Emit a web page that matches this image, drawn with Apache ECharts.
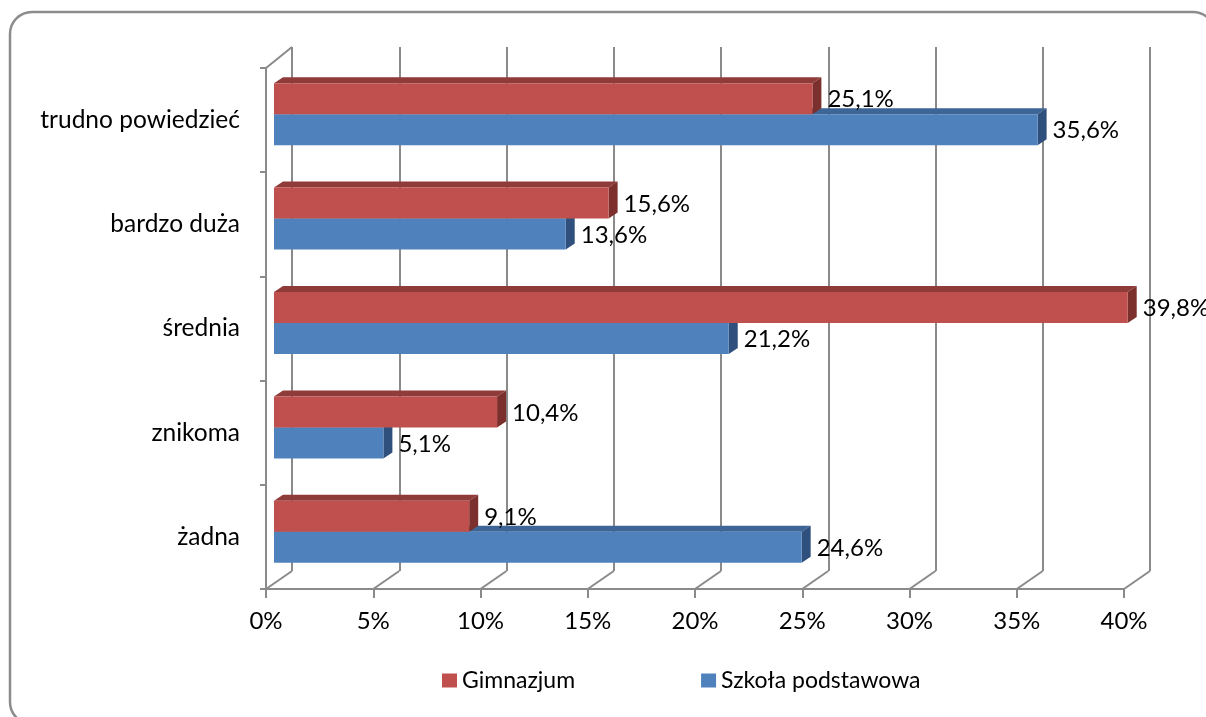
<!DOCTYPE html>
<html>
<head>
<meta charset="utf-8">
<script src="https://cdn.jsdelivr.net/npm/echarts@6/dist/echarts.min.js"></script>
<style>
html,body{margin:0;padding:0;background:#fff;}
#c{width:1206px;height:717px;}
</style>
</head>
<body>
<div id="c"></div>
<script>
const categories = ['żadna', 'znikoma', 'średnia', 'bardzo duża', 'trudno powiedzieć'];
const gimnazjum = [9.1, 10.4, 39.8, 15.6, 25.1];
const podstawowa = [24.6, 5.1, 21.2, 13.6, 35.6];
const xTicks = [0, 5, 10, 15, 20, 25, 30, 35, 40];
const seriesNames = ['Gimnazjum', 'Szkoła podstawowa'];

const FONT = 'Lato, "Open Sans", sans-serif';
const FS = 24;
const GRID_COLOR = '#8a8a8a';

function fmt(v) { return v.toFixed(1).replace('.', ',') + '%'; }

function barSeries(name, values, colors, upper) {
  return {
    type: 'custom', name: name, xAxisIndex: 2, yAxisIndex: 2, z: upper ? 4 : 3,
    itemStyle: { color: colors.front },
    data: values.map((v, i) => [v, i]),
    renderItem: function (params, api) {
      const v = api.value(0), c = api.value(1);
      const p0 = api.coord([0, c]);
      const p1 = api.coord([v, c]);
      const h = 31, dx = 9, dy = -6;
      const yTop = upper ? p1[1] - h : p1[1];
      const yBot = yTop + h;
      const x0 = p0[0], x1 = p1[0];
      return {
        type: 'group',
        children: [
          { type: 'polygon', shape: { points: [[x0, yTop], [x0 + dx, yTop + dy], [x1 + dx, yTop + dy], [x1, yTop]] }, style: { fill: colors.top } },
          { type: 'polygon', shape: { points: [[x1, yTop], [x1 + dx, yTop + dy], [x1 + dx, yBot + dy], [x1, yBot]] }, style: { fill: colors.side } },
          { type: 'rect', shape: { x: x0, y: yTop, width: x1 - x0, height: h }, style: { fill: colors.front } },
          { type: 'text', x: x1 + 15, y: yTop + h / 2 + 1, style: { text: fmt(v), fill: '#000', fontSize: FS, fontFamily: FONT, align: 'left', verticalAlign: 'middle' } }
        ]
      };
    }
  };
}

const chart = echarts.init(document.getElementById('c'), null, { renderer: 'canvas' });
chart.setOption({
  animation: false,
  backgroundColor: '#fff',
  graphic: [{
    type: 'rect', shape: { x: 10, y: 12, width: 1205, height: 712, r: 22 },
    style: { fill: 'none', stroke: '#8c8c8c', lineWidth: 2.5 }, silent: true, z: -10
  }],
  grid: [
    { left: 292, top: 47, width: 858, height: 524 },
    { left: 266, top: 68, width: 858, height: 521 },
    { left: 274, top: 62, width: 858, height: 522 }
  ],
  xAxis: [
    { gridIndex: 0, type: 'value', min: xTicks[0], max: xTicks[xTicks.length - 1], interval: 5,
      axisLine: { show: false }, axisTick: { show: false }, axisLabel: { show: false },
      splitLine: { show: true, lineStyle: { color: GRID_COLOR, width: 2 } } },
    { gridIndex: 1, type: 'value', min: xTicks[0], max: xTicks[xTicks.length - 1], interval: 5,
      axisLine: { show: true, lineStyle: { color: GRID_COLOR, width: 2 } },
      axisTick: { show: true, length: 9, lineStyle: { color: GRID_COLOR, width: 2 } },
      axisLabel: { show: true, formatter: '{value}%', color: '#000', fontSize: FS, fontFamily: FONT, margin: 20 },
      splitLine: { show: false } },
    { gridIndex: 2, type: 'value', min: xTicks[0], max: xTicks[xTicks.length - 1], interval: 5, show: false }
  ],
  yAxis: [
    { gridIndex: 0, type: 'category', data: categories, show: false },
    { gridIndex: 1, type: 'category', data: categories,
      axisLine: { show: true, lineStyle: { color: GRID_COLOR, width: 2 } },
      axisTick: { show: true, length: 6, interval: 0, lineStyle: { color: GRID_COLOR, width: 2 } },
      axisLabel: { color: '#000', fontSize: 24.5, fontFamily: FONT, margin: 26 },
      splitLine: { show: false } },
    { gridIndex: 2, type: 'category', data: categories, show: false }
  ],
  legend: {
    data: [{ name: seriesNames[0] }, { name: seriesNames[1] }],
    icon: 'rect', itemWidth: 15, itemHeight: 14, itemGap: 126,
    left: 437, top: 664,
    textStyle: { color: '#000', fontSize: 23, fontFamily: FONT }
  },
  series: [
    {
      type: 'custom', name: 'floor', xAxisIndex: 1, yAxisIndex: 1, silent: true, z: 1,
      data: xTicks.map(v => [v, 0]),
      renderItem: function (params, api) {
        const cs = params.coordSys;
        const x = api.coord([api.value(0), 0])[0];
        const bottom = cs.y + cs.height;
        const children = [
          { type: 'line', shape: { x1: x, y1: bottom, x2: x + 26, y2: bottom - 18 }, style: { stroke: GRID_COLOR, lineWidth: 2 } }
        ];
        if (params.dataIndex === 0) {
          children.push({ type: 'line', shape: { x1: cs.x, y1: cs.y, x2: cs.x + 26, y2: cs.y - 21 }, style: { stroke: GRID_COLOR, lineWidth: 2 } });
        }
        return { type: 'group', children: children };
      }
    },
    barSeries(seriesNames[1], podstawowa, { front: '#4F81BD', top: '#3D6595', side: '#2F507C' }, false),
    barSeries(seriesNames[0], gimnazjum, { front: '#C0504D', top: '#8F3B39', side: '#7C302E' }, true)
  ]
});
</script>
</body>
</html>
